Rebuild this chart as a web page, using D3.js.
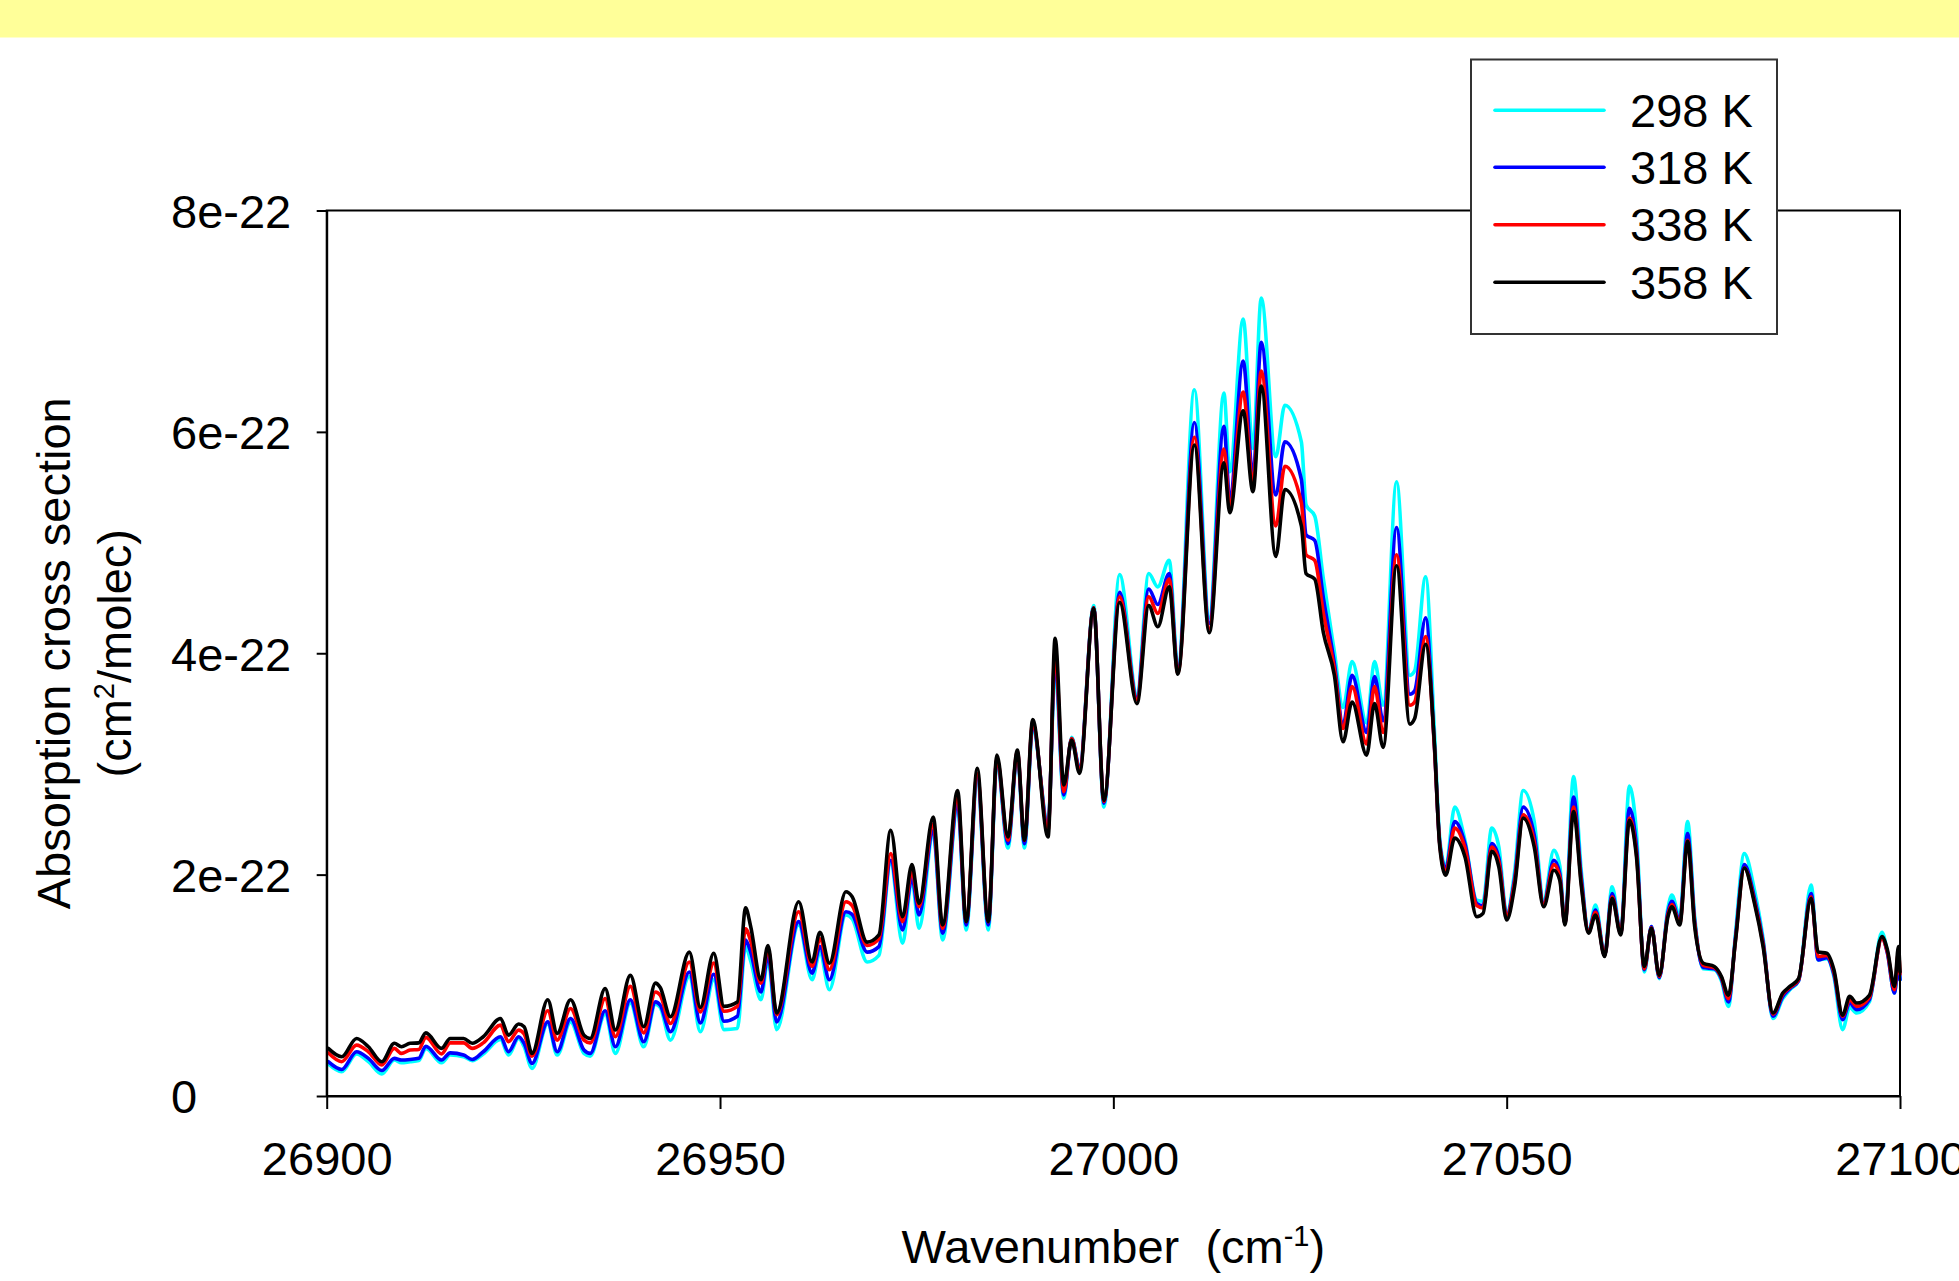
<!DOCTYPE html>
<html>
<head>
<meta charset="utf-8">
<script src="https://cdn.jsdelivr.net/npm/d3@7/dist/d3.min.js"></script>
<style>
  html, body { margin: 0; padding: 0; background: #ffffff; }
  svg { display: block; }
  text { font-family: "Liberation Sans", Arial, sans-serif; fill: #000; }
</style>
</head>
<body>
<svg id="chart" width="1959" height="1281"></svg>
<script>
// ---------------- DATA ----------------
// wavenumber (cm^-1)
const wavenumber = [
26900.2,26901.9,26903.8,26905.3,26907.0,26908.6,26909.5,26910.6,26911.7,26912.6,
26914.6,26915.7,26917.4,26918.5,26919.9,26922.1,26923.1,26924.4,26925.1,26926.1,
26928.1,26929.3,26931.0,26932.7,26933.5,26935.4,26936.7,26938.6,26940.3,26941.8,
26942.4,26943.7,26946.1,26947.5,26949.2,26950.5,26952.2,26953.25,26953.9,26955.2,
26956.1,26957.2,26960.0,26961.7,26962.7,26963.9,26966.0,26966.8,26968.7,26970.2,
26971.7,26973.2,26974.4,26975.3,26977.1,26978.3,26980.2,26981.3,26982.7,26984.1,
26985.2,26986.6,26987.8,26988.7,26989.75,26991.7,26992.6,26993.7,26994.7,26995.7,
26997.5,26998.8,27000.8,27003.0,27004.5,27005.65,27007.1,27008.2,27010.3,27012.2,
27014.05,27014.8,27016.5,27017.75,27018.8,27020.65,27021.8,27023.9,27024.5,27025.6,
27026.7,27028.1,27029.2,27030.35,27032.2,27033.2,27034.3,27036.0,27037.7,27038.3,
27039.7,27040.8,27041.5,27042.25,27043.4,27044.7,27046.2,27047.0,27048.1,27049.0,
27050.0,27051.0,27052.1,27053.5,27054.7,27056.0,27056.75,27057.4,27058.5,27059.5,
27060.4,27061.3,27062.45,27063.4,27064.5,27065.6,27066.5,27067.5,27068.4,27069.4,
27070.5,27071.0,27072.0,27073.0,27073.9,27075.0,27076.4,27077.3,27078.2,27079.1,
27080.2,27081.5,27082.6,27083.85,27085.1,27086.0,27087.1,27088.7,27089.6,27090.7,
27091.6,27092.7,27093.6,27094.5,27096.1,27097.7,27098.4,27099.3,27099.8,27100.0
];

// absorption cross section, in units of 1e-22 cm^2/molec
const k298 = [
0.29,0.22,0.38,0.31,0.20,0.325,0.30,0.31,0.32,0.43,
0.30,0.37,0.355,0.32,0.38,0.51,0.37,0.52,0.445,0.25,
0.65,0.37,0.67,0.385,0.36,0.74,0.385,0.84,0.445,0.83,
0.80,0.505,1.08,0.58,1.05,0.60,0.61,1.35,1.22,0.87,
1.23,0.60,1.545,1.05,1.30,0.96,1.635,1.60,1.21,1.27,
2.10,1.38,1.95,1.515,2.37,1.41,2.61,1.50,2.84,1.50,
3.01,2.24,3.08,2.24,3.32,2.46,3.85,2.69,3.24,2.97,
4.43,2.61,4.71,3.63,4.72,4.60,4.84,3.875,6.38,4.32,
6.35,5.64,7.02,5.85,7.21,5.775,6.24,5.91,5.34,5.24,
4.67,4.01,3.51,3.925,3.37,3.925,3.53,5.55,3.80,3.84,
4.69,3.32,2.32,2.07,2.61,2.31,1.77,1.76,2.42,2.25,
1.65,2.02,2.76,2.48,1.77,2.22,2.08,1.57,2.885,2.02,
1.49,1.725,1.28,1.89,1.48,2.80,2.38,1.12,1.53,1.06,
1.70,1.815,1.62,2.48,1.62,1.15,1.14,1.04,0.81,1.48,
2.19,1.86,1.42,0.70,0.88,0.96,1.04,1.905,1.23,1.24,
1.08,0.60,0.80,0.75,0.85,1.48,1.30,0.93,1.20,1.05
];
const k318 = [
0.31,0.24,0.40,0.34,0.23,0.34,0.325,0.33,0.34,0.45,
0.325,0.39,0.37,0.33,0.40,0.535,0.40,0.535,0.475,0.295,
0.67,0.40,0.70,0.415,0.385,0.77,0.445,0.87,0.49,0.85,
0.82,0.58,1.12,0.66,1.10,0.675,0.72,1.41,1.30,0.94,
1.27,0.67,1.575,1.11,1.35,1.05,1.665,1.64,1.30,1.35,
2.13,1.50,1.97,1.635,2.40,1.47,2.64,1.545,2.88,1.545,
3.04,2.28,3.10,2.28,3.35,2.43,3.95,2.72,3.23,2.96,
4.41,2.645,4.55,3.60,4.58,4.44,4.72,3.84,6.085,4.27,
6.05,5.395,6.64,5.60,6.81,5.43,5.91,5.57,5.07,5.02,
4.50,3.91,3.355,3.80,3.285,3.79,3.39,5.135,3.63,3.66,
4.32,3.18,2.28,2.05,2.48,2.28,1.74,1.72,2.28,2.15,
1.63,1.96,2.61,2.36,1.74,2.13,2.01,1.56,2.70,1.96,
1.48,1.68,1.27,1.83,1.47,2.60,2.25,1.14,1.53,1.07,
1.66,1.76,1.58,2.37,1.58,1.16,1.15,1.06,0.85,1.44,
2.09,1.79,1.39,0.72,0.90,0.97,1.04,1.83,1.23,1.25,
1.10,0.69,0.84,0.78,0.87,1.43,1.29,0.93,1.22,1.05
];
const k338 = [
0.39,0.31,0.46,0.40,0.28,0.43,0.385,0.415,0.42,0.53,
0.38,0.48,0.48,0.43,0.48,0.64,0.49,0.595,0.56,0.36,
0.77,0.505,0.79,0.505,0.48,0.88,0.536,0.99,0.57,0.94,
0.91,0.655,1.21,0.76,1.20,0.765,0.81,1.51,1.40,1.02,
1.33,0.735,1.665,1.17,1.42,1.14,1.755,1.72,1.36,1.42,
2.19,1.575,2.03,1.71,2.46,1.515,2.70,1.575,2.91,1.575,
3.05,2.31,3.11,2.31,3.37,2.40,4.02,2.75,3.23,2.945,
4.41,2.66,4.51,3.58,4.51,4.36,4.67,3.82,5.95,4.22,
5.845,5.33,6.36,5.53,6.55,5.15,5.69,5.36,4.89,4.84,
4.36,3.86,3.32,3.70,3.18,3.70,3.285,4.89,3.53,3.56,
4.15,3.17,2.27,2.02,2.42,2.24,1.72,1.70,2.25,2.12,
1.62,1.93,2.54,2.30,1.73,2.09,1.98,1.56,2.61,1.92,
1.48,1.66,1.27,1.80,1.47,2.51,2.19,1.15,1.52,1.08,
1.64,1.73,1.56,2.31,1.56,1.18,1.16,1.07,0.88,1.42,
2.06,1.76,1.37,0.74,0.92,0.98,1.05,1.80,1.26,1.27,
1.12,0.72,0.87,0.81,0.89,1.42,1.30,0.96,1.30,1.10
];
const k358 = [
0.43,0.355,0.52,0.445,0.31,0.476,0.445,0.476,0.48,0.57,
0.43,0.52,0.52,0.476,0.535,0.70,0.55,0.65,0.625,0.385,
0.87,0.566,0.87,0.55,0.52,0.97,0.596,1.09,0.626,1.02,
0.98,0.716,1.30,0.80,1.29,0.81,0.85,1.70,1.53,1.05,
1.36,0.75,1.755,1.21,1.48,1.20,1.845,1.80,1.39,1.455,
2.40,1.62,2.09,1.74,2.52,1.545,2.76,1.575,2.96,1.575,
3.08,2.34,3.125,2.31,3.40,2.34,4.135,2.81,3.215,2.915,
4.405,2.67,4.46,3.545,4.43,4.24,4.60,3.81,5.88,4.185,
5.72,5.27,6.19,5.46,6.415,4.875,5.48,5.15,4.72,4.67,
4.185,3.80,3.20,3.56,3.08,3.545,3.15,4.79,3.36,3.41,
4.08,3.20,2.25,1.995,2.33,2.16,1.62,1.65,2.21,2.07,
1.59,1.89,2.51,2.25,1.71,2.04,1.95,1.545,2.57,1.89,
1.47,1.635,1.26,1.785,1.455,2.49,2.16,1.17,1.515,1.09,
1.62,1.71,1.545,2.30,1.53,1.20,1.17,1.08,0.91,1.41,
2.06,1.74,1.35,0.75,0.93,0.99,1.06,1.785,1.30,1.29,
1.14,0.73,0.90,0.84,0.91,1.44,1.32,0.99,1.35,1.12
];

const seriesNames  = ["298 K", "318 K", "338 K", "358 K"];
const seriesColors = ["#00FFFF", "#0000FF", "#FF0000", "#000000"];
const seriesValues = [k298, k318, k338, k358];

const xTicks = [26900, 26950, 27000, 27050, 27100];
const xTickLabels = ["26900", "26950", "27000", "27050", "27100"];
const yTicks = [0, 2, 4, 6, 8];
const yTickLabels = ["0", "2e-22", "4e-22", "6e-22", "8e-22"];

// ---------------- LAYOUT ----------------
(function () {
const svg = d3.select("#chart");
const W = 1959;
const pLeft = 326.7, pRight = 1900, pTop = 210.5, pBottom = 1096;
const FS = 47;

// yellow band at top
svg.append("rect").attr("x", 0).attr("y", 0).attr("width", W).attr("height", 37.5)
  .attr("fill", "#FFFF99");

const x = d3.scaleLinear().domain([26900, 27100]).range([pLeft, pRight]);
const y = d3.scaleLinear().domain([0, 8]).range([pBottom, pTop]);

// lines
const plot = svg.append("g");
seriesValues.forEach((vals, i) => {
  const pts = wavenumber.map((w, j) => [w, vals[j]]);
  const line = d3.line().x(d => x(d[0])).y(d => y(d[1])).curve(d3.curveMonotoneX);
  plot.append("path")
    .attr("d", line(pts))
    .attr("fill", "none")
    .attr("stroke", seriesColors[i])
    .attr("stroke-width", 3.6)
    .attr("stroke-linejoin", "round")
    .attr("stroke-linecap", "round");
});

// frame
svg.append("rect")
  .attr("x", pLeft).attr("y", pTop)
  .attr("width", pRight - pLeft).attr("height", pBottom - pTop)
  .attr("fill", "none").attr("stroke", "#000").attr("stroke-width", 2);

// x axis
const xAxis = d3.axisBottom(x).tickValues(xTicks)
  .tickFormat((d, i) => xTickLabels[i]).tickSize(13).tickSizeOuter(0);
const gx = svg.append("g").attr("transform", `translate(0,${pBottom})`).call(xAxis);
gx.select(".domain").attr("stroke", "#000").attr("stroke-width", 2);
gx.selectAll(".tick line").attr("stroke", "#000").attr("stroke-width", 2);
gx.selectAll(".tick text")
  .attr("font-family", "'Liberation Sans', Arial, sans-serif")
  .attr("font-size", FS).attr("fill", "#000")
  .attr("y", 79).attr("dy", 0);

// y axis
const yAxis = d3.axisLeft(y).tickValues(yTicks)
  .tickFormat((d, i) => yTickLabels[i]).tickSize(10).tickSizeOuter(0);
const gy = svg.append("g").attr("transform", `translate(${pLeft},0)`).call(yAxis);
gy.select(".domain").attr("stroke", "#000").attr("stroke-width", 2);
gy.selectAll(".tick line").attr("stroke", "#000").attr("stroke-width", 2);
gy.selectAll(".tick text")
  .attr("font-family", "'Liberation Sans', Arial, sans-serif")
  .attr("font-size", FS).attr("fill", "#000")
  .attr("text-anchor", "start")
  .attr("x", 171 - pLeft).attr("dy", "0.36em");

// x title
const xt = svg.append("text")
  .attr("x", (pLeft + pRight) / 2).attr("y", 1263)
  .attr("text-anchor", "middle").attr("font-size", FS)
  .style("white-space", "pre");
xt.append("tspan").text("Wavenumber  (cm");
xt.append("tspan").attr("font-size", 29).attr("dy", -17).text("-1");
xt.append("tspan").attr("dy", 17).text(")");

// y title
svg.append("text")
  .attr("transform", `translate(70,${(pTop + pBottom) / 2}) rotate(-90)`)
  .attr("text-anchor", "middle").attr("font-size", FS)
  .text("Absorption cross section");
const yt2 = svg.append("text")
  .attr("transform", `translate(131,${(pTop + pBottom) / 2}) rotate(-90)`)
  .attr("text-anchor", "middle").attr("font-size", FS);
yt2.append("tspan").text("(cm");
yt2.append("tspan").attr("font-size", 29).attr("dy", -17).text("2");
yt2.append("tspan").attr("dy", 17).text("/molec)");

// legend
const lg = svg.append("g");
lg.append("rect")
  .attr("x", 1471).attr("y", 59.5).attr("width", 306).attr("height", 274.5)
  .attr("fill", "#fff").attr("stroke", "#333").attr("stroke-width", 2);
const rowY = [110.3, 167.3, 224.7, 282.3];
seriesNames.forEach((name, i) => {
  lg.append("line")
    .attr("x1", 1495).attr("x2", 1604)
    .attr("y1", rowY[i]).attr("y2", rowY[i])
    .attr("stroke", seriesColors[i]).attr("stroke-width", 3.6)
    .attr("stroke-linecap", "round");
  lg.append("text")
    .attr("x", 1630).attr("y", rowY[i] + 16.5)
    .attr("font-size", FS)
    .text(name);
});
})();
</script>
</body>
</html>
